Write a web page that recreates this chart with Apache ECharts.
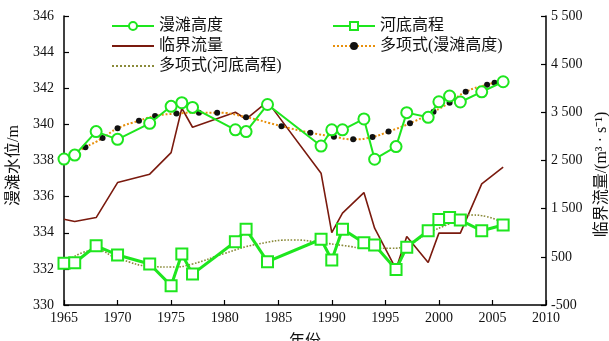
<!DOCTYPE html>
<html><head><meta charset="utf-8">
<script src="https://cdn.jsdelivr.net/npm/echarts@6/dist/echarts.min.js"></script>
<style>html,body{margin:0;padding:0;background:#fff}#c{width:609px;height:341px}</style>
</head><body><div id="c"></div>
<script>
const years = [1965,1966,1968,1970,1973,1975,1976,1977,1981,1982,1984,1989,1990,1991,1993,1994,1996,1997,1999,2000,2001,2002,2004,2006];
const floodplain = [338.08,338.3,339.6,339.17,340.06,341.0,341.2,340.94,339.7,339.6,341.1,338.8,339.7,339.7,340.3,338.07,338.77,340.65,340.39,341.25,341.57,341.24,341.8,342.36];
const flow = [1282,1233,1315,2042,2216,2664,3585,3190,3502,3357,3722,2237,1004,1407,1834,1095,245,921,382,992,992,992,2015,2361];
const bed = [332.31,332.34,333.28,332.77,332.27,331.07,332.82,331.71,333.5,334.19,332.4,333.64,332.49,334.2,333.45,333.32,331.97,333.2,334.11,334.74,334.85,334.7,334.11,334.43];
const polyFloodYears = [1965,1967,1968.6,1970,1972,1973.5,1975.5,1977.6,1979.3,1982,1985.3,1988,1990.2,1992,1993.8,1995.3,1997.3,1999.5,2001,2002.5,2004.5,2005.2];
const polyFloodVals = [338.08,338.73,339.24,339.78,340.2,340.46,340.6,340.65,340.65,340.4,339.9,339.54,339.32,339.17,339.3,339.6,340.06,340.7,341.2,341.8,342.2,342.3];
const polyBedYears = [1965,1968,1970,1973.5,1975,1977,1980,1983,1986.5,1989,1991,1993.5,1995.5,1997,1999,2001,2003,2004.5,2006];
const polyBedVals = [332.3,333.05,332.58,332.12,332.1,332.27,332.86,333.36,333.6,333.45,333.3,333.14,333.14,333.3,333.97,334.5,334.98,334.89,334.52];
const names = ['漫滩高度','河底高程','临界流量','多项式(漫滩高度)','多项式(河底高程)'];

const pair = (xs, ys) => xs.map((x, i) => [x, ys[i]]);
const GREEN = '#1ee61e';
const serif = 'Liberation Serif, "Noto Sans CJK SC", serif';
const txt = {color:'#111', fontSize:14, fontFamily: serif};
const axisCommon = {
  axisLine:{show:true, onZero:false, lineStyle:{color:'#000', width:1.5}},
  axisTick:{show:true, inside:true, length:5, lineStyle:{color:'#000', width:1.2}},
  splitLine:{show:false},
};
function legendAt(name, left, top, hideSymbol){
  const item = {name};
  if (hideSymbol) item.itemStyle = {opacity:0};
  return {data:[item], left, top, itemWidth:42, itemHeight:10, padding:0, textStyle:{color:'#111', fontSize:16, fontFamily: serif}};
}
const chart = echarts.init(document.getElementById('c'), null, {renderer:'canvas'});
chart.setOption({
  animation:false,
  backgroundColor:'#fff',
  grid:{left:64, right:63, top:16, bottom:36, containLabel:false, outerBoundsMode:'none'},
  legend:[
    legendAt(names[0], 111, 18, false),
    legendAt(names[1], 332, 18, false),
    legendAt(names[2], 111, 38, true),
    legendAt(names[3], 332, 38, false),
    legendAt(names[4], 111, 58, true)
  ],
  xAxis:Object.assign({type:'value', min:1965, max:2010, interval:5,
    name:'年份', nameLocation:'middle', nameGap:29, nameTextStyle:{color:'#111', fontSize:16, fontFamily: serif},
    axisLabel:Object.assign({margin:6, formatter:v => String(v)}, txt)}, axisCommon),
  yAxis:[
    Object.assign({type:'value', min:330, max:346, interval:2,
      name:'漫滩水位/m', nameLocation:'middle', nameGap:40, nameRotate:90,
      nameTextStyle:{color:'#111', fontSize:16, fontFamily: serif, padding:[0,10,0,0]},
      axisLabel:Object.assign({margin:10, formatter:v => String(v)}, txt)}, axisCommon),
    Object.assign({type:'value', min:-500, max:5500, interval:1000, position:'right',
      name:'临界流量/(m³ · s⁻¹)', nameLocation:'middle', nameGap:47, nameRotate:90,
      nameTextStyle:{color:'#111', fontSize:16, fontFamily: serif, padding:[0,28,0,0]},
      axisLabel:Object.assign({margin:5, formatter:v => Math.abs(v) >= 1000 ? String(v).replace(/(\d)(?=\d{3}$)/, '$1 ') : String(v)}, txt)}, axisCommon)
  ],
  series:[
    {name:names[0], type:'line', data:pair(years, floodplain), symbol:'emptyCircle', symbolSize:11, z:5,
      itemStyle:{color:GREEN, borderWidth:2}, lineStyle:{color:GREEN, width:2}},
    {name:names[1], type:'line', data:pair(years, bed), symbol:'emptyRect', symbolSize:11, z:5,
      itemStyle:{color:GREEN, borderWidth:2}, lineStyle:{color:GREEN, width:3}},
    {name:names[2], type:'line', yAxisIndex:1, data:pair(years, flow), symbol:'none', z:3,
      itemStyle:{color:'#7a1a0e'}, lineStyle:{color:'#7a1a0e', width:1.6}},
    {name:names[3], type:'line', data:pair(polyFloodYears, polyFloodVals), smooth:true, symbol:'circle', symbolSize:6, z:4,
      itemStyle:{color:'#111'}, lineStyle:{color:'#e8900c', width:2, type:'dotted'}},
    {name:names[4], type:'line', data:pair(polyBedYears, polyBedVals), smooth:true, symbol:'none', z:4,
      itemStyle:{color:'#8a8a3a'}, lineStyle:{color:'#8a8a3a', width:1.6, type:'dotted'}}
  ]
});
</script></body></html>
